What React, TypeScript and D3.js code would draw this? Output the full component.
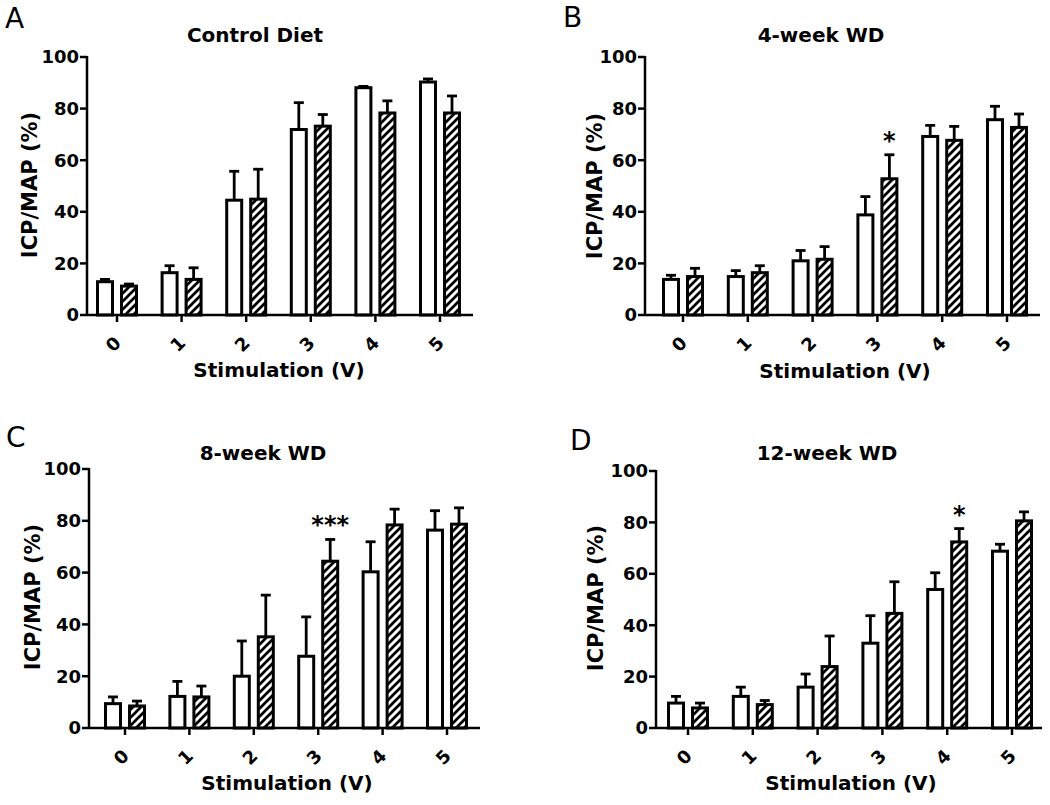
import React from "react";
import * as d3 from "d3";

const categories = ["0", "1", "2", "3", "4", "5"];
const yTicks = [0, 20, 40, 60, 80, 100];
const panelLetters = ["A", "B", "C", "D"];
const panelTitles = ["Control Diet", "4-week WD", "8-week WD", "12-week WD"];
const xAxisTitle = "Stimulation (V)";
const yAxisTitle = "ICP/MAP (%)";

// open bars (mean, SEM)
const openMeans = [
  [12.9, 16.4, 44.5, 71.9, 88.1, 90.3],
  [13.8, 14.9, 21.0, 38.8, 69.2, 75.7],
  [9.4, 12.2, 20.0, 27.7, 60.3, 76.4],
  [9.7, 12.3, 15.9, 33.0, 53.9, 68.8],
];
const openSem = [
  [0.9, 2.7, 11.2, 10.4, 0.5, 1.2],
  [1.6, 2.3, 4.0, 7.1, 4.3, 5.2],
  [2.6, 5.8, 13.6, 15.2, 11.6, 7.5],
  [2.6, 3.6, 5.1, 10.7, 6.5, 2.7],
];
// hatched bars (mean, SEM)
const hatchMeans = [
  [11.2, 13.8, 44.9, 73.2, 78.3, 78.3],
  [14.9, 16.4, 21.6, 52.8, 67.7, 72.7],
  [8.5, 12.0, 35.2, 64.4, 78.4, 78.7],
  [7.8, 9.1, 23.9, 44.6, 72.4, 80.6],
];
const hatchSem = [
  [0.8, 4.5, 11.6, 4.5, 4.7, 6.6],
  [3.2, 2.7, 4.9, 9.3, 5.4, 5.2],
  [1.9, 4.2, 16.1, 8.4, 6.1, 6.3],
  [1.9, 1.6, 11.9, 12.3, 5.2, 3.5],
];
// significance marks: panel, category, label (on the hatched bar)
const sigPanel = [1, 2, 3];
const sigCategory = ["3", "3", "4"];
const sigLabel = ["*", "***", "*"];

// layout of each panel (pixels)
const layouts = [
  { x0: 87, xEnd: 473, first: 117, last: 440, y0: 315, y100: 57, lx: 5, ly: 28, tx: 255, ty: 42, yl: 37, ylc: 185, xlc: 279, xly: 377 },
  { x0: 645, xEnd: 1040, first: 683, last: 1007, y0: 315, y100: 57, lx: 563, ly: 27, tx: 821, ty: 42, yl: 602, ylc: 186, xlc: 845, xly: 378 },
  { x0: 89, xEnd: 480, first: 125, last: 447, y0: 728, y100: 469, lx: 6, ly: 447, tx: 263, ty: 460, yl: 40, ylc: 597, xlc: 287, xly: 790 },
  { x0: 656, xEnd: 1042, first: 688, last: 1012, y0: 728, y100: 471, lx: 570, ly: 450, tx: 827, ty: 460, yl: 603, ylc: 598, xlc: 851, xly: 790 },
];

const FONT = "'DejaVu Sans', sans-serif";
const SW = 3;
const BAR_W = 15;

function Panel({ idx }: { idx: number }) {
  const L = layouts[idx];
  const x = d3.scalePoint<string>().domain(categories).range([L.first, L.last]);
  const y = d3.scaleLinear().domain([0, 100]).range([L.y0, L.y100]);
  const groups = [
    { means: openMeans[idx], sem: openSem[idx], dx: -19.5, fill: "#fff" },
    { means: hatchMeans[idx], sem: hatchSem[idx], dx: 4.5, fill: "url(#hatch)" },
  ];
  return (
    <g>
      <text x={L.lx} y={L.ly} fontFamily={FONT} fontSize={28} fill="#000">
        {panelLetters[idx]}
      </text>
      <text x={L.tx} y={L.ty} textAnchor="middle" fontFamily={FONT} fontWeight="bold" fontSize={20} fill="#000">
        {panelTitles[idx]}
      </text>
      {groups.map((g, gi) =>
        categories.map((c, i) => {
          const cx = (x(c) as number) + g.dx;
          const top = y(g.means[i]);
          const errTop = y(g.means[i] + g.sem[i]);
          const mid = cx + BAR_W / 2;
          return (
            <g key={`${gi}-${i}`}>
              <line x1={mid} x2={mid} y1={top} y2={errTop} stroke="#000" strokeWidth={2.8} />
              <line x1={mid - 5} x2={mid + 5} y1={errTop} y2={errTop} stroke="#000" strokeWidth={2.8} />
              <rect x={cx} y={top} width={BAR_W} height={L.y0 - top} fill={g.fill} stroke="#000" strokeWidth={SW} />
            </g>
          );
        })
      )}
      <line x1={L.x0} x2={L.x0} y1={L.y100 - 1} y2={L.y0} stroke="#000" strokeWidth={2.5} />
      {yTicks.map((t) => (
        <g key={t}>
          <line x1={L.x0 - 7} x2={L.x0} y1={y(t)} y2={y(t)} stroke="#000" strokeWidth={2.5} />
          <text x={L.x0 - 8} y={y(t)} dy="0.36em" textAnchor="end" fontFamily={FONT} fontWeight="bold" fontSize={18} fill="#000">
            {t}
          </text>
        </g>
      ))}
      <line x1={L.x0} x2={L.xEnd} y1={L.y0} y2={L.y0} stroke="#000" strokeWidth={2.5} />
      {categories.map((c) => (
        <g key={c}>
          <line x1={x(c)} x2={x(c)} y1={L.y0} y2={L.y0 + 7} stroke="#000" strokeWidth={2.5} />
          <text
            transform={`translate(${(x(c) as number) - 4},${L.y0 + 29}) rotate(-45)`}
            textAnchor="middle"
            dy="0.36em"
            fontFamily={FONT}
            fontWeight="bold"
            fontSize={18}
            fill="#000"
          >
            {c}
          </text>
        </g>
      ))}
      {sigPanel.map((p, k) => {
        if (p !== idx) return null;
        const ci = categories.indexOf(sigCategory[k]);
        return (
          <text
            key={k}
            x={(x(sigCategory[k]) as number) + 12}
            y={y(hatchMeans[idx][ci] + hatchSem[idx][ci]) - 6}
            textAnchor="middle"
            fontFamily={FONT}
            fontWeight="bold"
            fontSize={24}
            fill="#000"
          >
            {sigLabel[k]}
          </text>
        );
      })}
      <text x={L.xlc} y={L.xly} textAnchor="middle" fontFamily={FONT} fontWeight="bold" fontSize={20} fill="#000">
        {xAxisTitle}
      </text>
      <text
        transform={`translate(${L.yl},${L.ylc}) rotate(-90)`}
        textAnchor="middle"
        fontFamily={FONT}
        fontWeight="bold"
        fontSize={21}
        fill="#000"
      >
        {yAxisTitle}
      </text>
    </g>
  );
}

export default function App() {
  return (
    <svg
      width={1050}
      height={805}
      viewBox="0 0 1050 805"
      style={{ position: "absolute", left: 0, top: 0, background: "#fff" }}
    >
      <defs>
        <pattern id="hatch" patternUnits="userSpaceOnUse" width={8} height={8}>
          <rect width={8} height={8} fill="#fff" />
          <path d="M-2,2 L2,-2 M0,8 L8,0 M6,10 L10,6" stroke="#000" strokeWidth={2.7} />
        </pattern>
      </defs>
      <rect width={1050} height={805} fill="#fff" />
      {[0, 1, 2, 3].map((i) => (
        <Panel key={i} idx={i} />
      ))}
    </svg>
  );
}
